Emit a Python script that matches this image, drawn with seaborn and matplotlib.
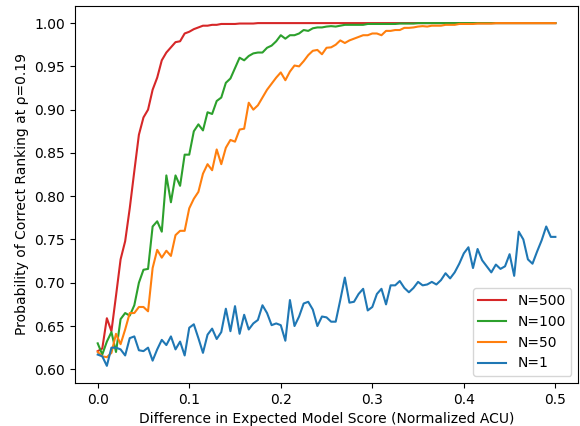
import numpy as np
import pandas as pd
import matplotlib
matplotlib.use("Agg")
import matplotlib.pyplot as plt
import seaborn as sns

# x grid: difference in expected model score (normalized ACU)
diff = [
    0.0, 0.005, 0.01, 0.015, 0.02, 0.025, 0.03, 0.035, 0.04, 0.045,
    0.05, 0.055, 0.06, 0.065, 0.07, 0.075, 0.08, 0.085, 0.09, 0.095,
    0.1, 0.105, 0.11, 0.115, 0.12, 0.125, 0.13, 0.135, 0.14, 0.145,
    0.15, 0.155, 0.16, 0.165, 0.17, 0.175, 0.18, 0.185, 0.19, 0.195,
    0.2, 0.205, 0.21, 0.215, 0.22, 0.225, 0.23, 0.235, 0.24, 0.245,
    0.25, 0.255, 0.26, 0.265, 0.27, 0.275, 0.28, 0.285, 0.29, 0.295,
    0.3, 0.305, 0.31, 0.315, 0.32, 0.325, 0.33, 0.335, 0.34, 0.345,
    0.35, 0.355, 0.36, 0.365, 0.37, 0.375, 0.38, 0.385, 0.39, 0.395,
    0.4, 0.405, 0.41, 0.415, 0.42, 0.425, 0.43, 0.435, 0.44, 0.445,
    0.45, 0.455, 0.46, 0.465, 0.47, 0.475, 0.48, 0.485, 0.49, 0.495,
    0.5,
]

n500 = [
    0.621, 0.624, 0.659, 0.644, 0.685, 0.727, 0.748, 0.786, 0.829, 0.871,
    0.891, 0.900, 0.923, 0.937, 0.957, 0.966, 0.972, 0.978, 0.979, 0.988,
    0.990, 0.993, 0.995, 0.997, 0.997, 0.998, 0.998, 0.999, 0.999, 0.999,
    0.999, 0.9995, 0.9995, 0.9995, 0.9995, 1.0, 1.0, 1.0, 1.0, 1.0,
    1.0, 1.0, 1.0, 1.0, 1.0, 1.0, 1.0, 1.0, 1.0, 1.0,
    1.0, 1.0, 1.0, 1.0, 1.0, 1.0, 1.0, 1.0, 1.0, 1.0,
    1.0, 1.0, 1.0, 1.0, 1.0, 1.0, 1.0, 1.0, 1.0, 1.0,
    1.0, 1.0, 1.0, 1.0, 1.0, 1.0, 1.0, 1.0, 1.0, 1.0,
    1.0, 1.0, 1.0, 1.0, 1.0, 1.0, 1.0, 1.0, 1.0, 1.0,
    1.0, 1.0, 1.0, 1.0, 1.0, 1.0, 1.0, 1.0, 1.0, 1.0,
    1.0,
]

n100 = [
    0.630, 0.617, 0.632, 0.643, 0.620, 0.658, 0.665, 0.662, 0.674, 0.700,
    0.715, 0.716, 0.765, 0.771, 0.759, 0.824, 0.793, 0.824, 0.812, 0.848,
    0.848, 0.875, 0.883, 0.876, 0.897, 0.895, 0.910, 0.914, 0.931, 0.936,
    0.948, 0.960, 0.957, 0.962, 0.965, 0.966, 0.966, 0.9715, 0.974, 0.979,
    0.986, 0.982, 0.986, 0.986, 0.988, 0.992, 0.991, 0.994, 0.995, 0.995,
    0.996, 0.9965, 0.996, 0.997, 0.998, 0.998, 0.998, 0.998, 0.998, 0.999,
    0.999, 0.999, 0.999, 0.999, 0.999, 0.999, 0.9995, 0.9995, 0.9995, 0.9995,
    1.0, 1.0, 1.0, 1.0, 1.0, 1.0, 1.0, 1.0, 1.0, 1.0,
    1.0, 1.0, 1.0, 1.0, 1.0, 1.0, 1.0, 1.0, 1.0, 1.0,
    1.0, 1.0, 1.0, 1.0, 1.0, 1.0, 1.0, 1.0, 1.0, 1.0,
    1.0,
]

n50 = [
    0.620, 0.615, 0.614, 0.619, 0.641, 0.629, 0.646, 0.665, 0.665, 0.672,
    0.672, 0.667, 0.717, 0.738, 0.729, 0.737, 0.731, 0.755, 0.760, 0.760,
    0.786, 0.797, 0.805, 0.826, 0.837, 0.830, 0.854, 0.837, 0.856, 0.865,
    0.863, 0.877, 0.878, 0.908, 0.900, 0.905, 0.914, 0.923, 0.930, 0.937,
    0.943, 0.934, 0.944, 0.951, 0.950, 0.956, 0.963, 0.968, 0.969, 0.964,
    0.9715, 0.972, 0.975, 0.980, 0.977, 0.980, 0.982, 0.984, 0.986, 0.986,
    0.988, 0.988, 0.986, 0.991, 0.991, 0.992, 0.992, 0.9945, 0.9945, 0.995,
    0.996, 0.9965, 0.996, 0.997, 0.997, 0.997, 0.998, 0.998, 0.998, 0.999,
    0.999, 0.999, 0.999, 0.9995, 0.9995, 0.9995, 0.9995, 1.0, 1.0, 1.0,
    1.0, 1.0, 1.0, 1.0, 1.0, 1.0, 1.0, 1.0, 1.0, 1.0,
    1.0,
]

n1 = [
    0.617, 0.615, 0.604, 0.625, 0.625, 0.623, 0.616, 0.636, 0.638, 0.622,
    0.621, 0.625, 0.610, 0.623, 0.634, 0.628, 0.638, 0.623, 0.632, 0.616,
    0.648, 0.652, 0.636, 0.619, 0.640, 0.647, 0.635, 0.643, 0.670, 0.644,
    0.673, 0.641, 0.663, 0.646, 0.653, 0.657, 0.674, 0.665, 0.651, 0.653,
    0.651, 0.633, 0.680, 0.650, 0.661, 0.676, 0.678, 0.669, 0.650, 0.661,
    0.660, 0.655, 0.655, 0.680, 0.706, 0.677, 0.678, 0.687, 0.693, 0.668,
    0.672, 0.687, 0.693, 0.675, 0.697, 0.697, 0.702, 0.694, 0.689, 0.694,
    0.701, 0.697, 0.698, 0.701, 0.698, 0.703, 0.711, 0.705, 0.712, 0.722,
    0.734, 0.741, 0.717, 0.739, 0.726, 0.719, 0.712, 0.721, 0.716, 0.719,
    0.733, 0.708, 0.759, 0.750, 0.727, 0.722, 0.736, 0.749, 0.765, 0.753,
    0.753,
]

labels = ["N=500", "N=100", "N=50", "N=1"]
series = [n500, n100, n50, n1]
colors = ["tab:red", "tab:green", "tab:orange", "tab:blue"]

frames = []
for lab, vals in zip(labels, series):
    frames.append(pd.DataFrame({"diff": diff, "prob": vals, "N": lab}))
df = pd.concat(frames, ignore_index=True)

fig, ax = plt.subplots(figsize=(5.8, 4.26), dpi=100)
sns.lineplot(data=df, x="diff", y="prob", hue="N", hue_order=labels,
             palette=dict(zip(labels, colors)), linewidth=1.5, ax=ax)

ax.set_xlabel("Difference in Expected Model Score (Normalized ACU)")
ax.set_ylabel("Probability of Correct Ranking at ρ=0.19")
ax.set_xticks([0.0, 0.1, 0.2, 0.3, 0.4, 0.5])
ax.set_yticks([0.60, 0.65, 0.70, 0.75, 0.80, 0.85, 0.90, 0.95, 1.00])
ax.legend(loc="lower right", title=None)

plt.subplots_adjust(left=0.129, right=0.997, top=0.986, bottom=0.101)
plt.savefig("out.png", dpi=100)
